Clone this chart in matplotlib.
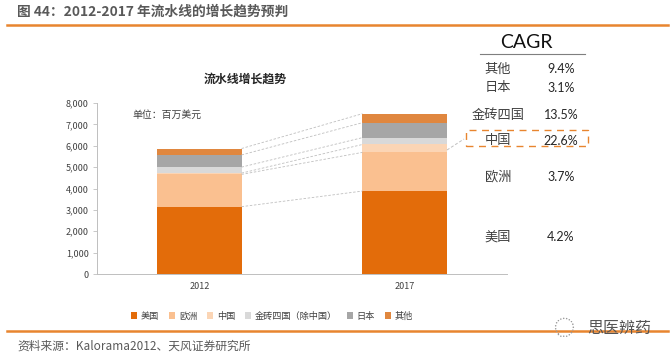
import matplotlib
matplotlib.use("Agg")
import matplotlib.pyplot as plt
from matplotlib.lines import Line2D
from matplotlib.patches import Rectangle

plt.rcParams['font.family'] = ['Noto Sans CJK SC', 'DejaVu Sans']

W, H = 671, 357

years = ["2012", "2017"]
regions = ["美国", "欧洲", "中国", "金砖四国（除中国）", "日本", "其他"]
colors = ["#E36C0A", "#FAC090", "#FBD5B5", "#D9D9D9", "#A6A6A6", "#E0873F"]
v2012 = [3150, 1510, 60, 280, 570, 300]
v2017 = [3880, 1810, 370, 320, 700, 420]
yticks = [0, 1000, 2000, 3000, 4000, 5000, 6000, 7000, 8000]

cagr_names = ["其他", "日本", "金砖四国", "中国", "欧洲", "美国"]
cagr_values = ["9.4%", "3.1%", "13.5%", "22.6%", "3.7%", "4.2%"]
cagr_ypos = [69, 88, 115, 141, 177, 237]


def fx(x):
    return x / W


def fy(y):
    return 1 - y / H


fig = plt.figure(figsize=(W / 100, H / 100), dpi=100)
ax = fig.add_axes([fx(97), fy(274), fx(507 - 97), 171 / H])

bar_w = 0.41
bottom = [0, 0]
tops = []
for i, name in enumerate(regions):
    vals = [v2012[i], v2017[i]]
    ax.bar([0, 1], vals, bar_w, bottom=bottom, color=colors[i], label=name)
    bottom = [bottom[0] + vals[0], bottom[1] + vals[1]]
    tops.append(list(bottom))

# dashed connectors between the two bars
for t in tops:
    ax.plot([bar_w / 2, 1 - bar_w / 2], t, color="#BFBFBF", lw=0.6, ls=(0, (3, 2)))

ax.set_xlim(-0.5, 1.5)
ax.set_ylim(0, 8000)
ax.set_xticks([0, 1])
ax.set_xticklabels(years)
ax.set_yticks(yticks)
ax.set_yticklabels([f"{v:,}" for v in yticks])
ax.tick_params(axis="x", length=0, labelsize=6.5, colors="#404040", pad=6)
ax.tick_params(axis="y", length=3, width=0.6, color="#BFBFBF", labelsize=6.5,
               labelcolor="#404040", pad=3)
for s in ["top", "right"]:
    ax.spines[s].set_visible(False)
for s in ["left", "bottom"]:
    ax.spines[s].set_color("#BFBFBF")
    ax.spines[s].set_linewidth(0.7)

fig.legend(loc="center", bbox_to_anchor=(fx(272), fy(316)), ncol=6, frameon=False,
           fontsize=6.6, labelcolor="#404040", handlelength=0.7, handleheight=0.7,
           handletextpad=0.4, columnspacing=1.05, borderpad=0)

# header and footer
fig.text(fx(17), fy(12), "图 44：2012-2017 年流水线的增长趋势预判", fontsize=9.9,
         fontweight="bold", color="#595959", va="center")
fig.add_artist(Line2D([fx(7), fx(668)], [fy(24.5), fy(24.5)], color="#E8852F", lw=1.8))
fig.add_artist(Line2D([fx(7), fx(668)], [fy(331), fy(331)], color="#E8852F", lw=1.8))
fig.text(fx(17), fy(346), "资料来源：Kalorama2012、天风证券研究所", fontsize=8.5,
         color="#595959", va="center")
fig.text(fx(245), fy(79), "流水线增长趋势", fontsize=8.6, fontweight="bold",
         color="#262626", ha="center", va="center")
fig.text(fx(132), fy(115), "单位：百万美元", fontsize=7.1, color="#404040", va="center")

# CAGR table
fig.text(fx(526), fy(43), "CAGR", fontsize=14, color="#111111", ha="center", va="center",
         family=["Lato", "DejaVu Sans"])
fig.add_artist(Line2D([fx(480), fx(585)], [fy(53.5), fy(53.5)], color="#7F7F7F", lw=0.8))
for name, val, y in zip(cagr_names, cagr_values, cagr_ypos):
    fig.text(fx(498), fy(y), name, fontsize=9.5, color="#404040", ha="center", va="center")
    fig.text(fx(561), fy(y), val, fontsize=9, color="#262626", ha="center", va="center",
             family=["Lato", "DejaVu Sans"])

# highlight box around 中国
fig.add_artist(Rectangle((fx(466), fy(146)), 122 / W, 16.5 / H, transform=fig.transFigure,
                         fill=False, ec="#E8852F", lw=1.0, ls=(0, (5, 4))))
fig.add_artist(Line2D([fx(447), fx(464)], [fy(150), fy(139)], color="#BFBFBF", lw=0.7,
                      ls=(0, (3, 2))))

# watermark
fig.text(fx(587), fy(328), "思医辨药", fontsize=11.5, color="#555555", ha="left", va="center")
fig.text(fx(564), fy(329), "◌", fontsize=15, color="#999999", ha="center", va="center")

fig.savefig("out.png", dpi=100)
